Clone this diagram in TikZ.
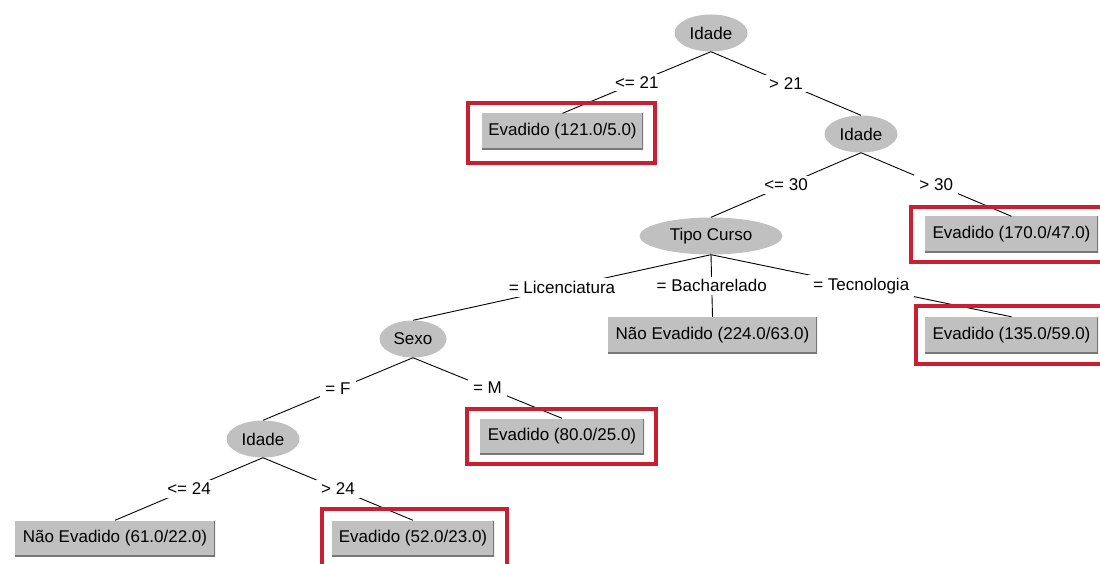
\documentclass[tikz,border=0pt]{standalone}
\usepackage{fontspec}
\setmainfont{Liberation Sans}
\usetikzlibrary{shapes.geometric}
\definecolor{nodegray}{RGB}{192,192,192}
\definecolor{edgegray}{RGB}{120,120,120}
\definecolor{hlred}{RGB}{200,32,48}
\tikzset{
  every node/.style={font=\fontsize{17}{20}\selectfont},
  inner/.style={ellipse, fill=nodegray, inner sep=0pt, minimum height=37pt},
  leaf/.style={rectangle, fill=nodegray, inner sep=0pt, minimum height=36pt,
    path picture={\draw[edgegray, line width=2.2pt]
      (path picture bounding box.south west) -- (path picture bounding box.south east)
      -- (path picture bounding box.north east);}},
  lbl/.style={fill=white, inner xsep=5pt, inner ysep=3pt},
  conn/.style={draw=black, line width=0.9pt},
  hl/.style={draw=hlred, line width=3.5pt},
}
\begin{document}
\begin{tikzpicture}[x=1pt, y=-1pt]
\useasboundingbox (0,0) rectangle (1100,564);
\clip (0,0) rectangle (1100,564);
% nodes
\node[inner, minimum width=73pt] (root) at (711,33) {Idade};
\node[leaf, minimum width=161pt] (l121) at (562.5,131.5) {Evadido (121.0/5.0)};
\node[inner, minimum width=73pt] (age2) at (861,134) {Idade};
\node[leaf, minimum width=173pt] (l170) at (1011.5,234.5) {Evadido (170.0/47.0)};
\node[inner, minimum width=143pt] (tipo) at (711,236) {Tipo Curso};
\node[leaf, minimum width=209pt] (l224) at (712.5,335) {Não Evadido (224.0/63.0)};
\node[leaf, minimum width=173pt] (l135) at (1011.5,335) {Evadido (135.0/59.0)};
\node[inner, minimum width=67pt] (sexo) at (413,339) {Sexo};
\node[leaf, minimum width=164pt] (l80) at (562,436.5) {Evadido (80.0/25.0)};
\node[inner, minimum width=73pt] (age3) at (263,439) {Idade};
\node[leaf, minimum width=200pt] (l61) at (115,538.5) {Não Evadido (61.0/22.0)};
\node[leaf, minimum width=162pt] (l52) at (413,538.5) {Evadido (52.0/23.0)};
% connectors
\draw[conn] (root.south) -- node[lbl] {<= 21} (l121.north);
\draw[conn] (root.south) -- node[lbl] {> 21} (age2.north);
\draw[conn] (age2.south) -- node[lbl] {<= 30} (tipo.north);
\draw[conn] (age2.south) -- node[lbl] {> 30} (l170.north);
\draw[conn] (tipo.south) -- node[lbl] {= Licenciatura} (sexo.north);
\draw[conn] (tipo.south) -- node[lbl] {= Bacharelado} (l224.north);
\draw[conn] (tipo.south) -- node[lbl] {= Tecnologia} (l135.north);
\draw[conn] (sexo.south) -- node[lbl] {= F} (age3.north);
\draw[conn] (sexo.south) -- node[lbl] {= M} (l80.north);
\draw[conn] (age3.south) -- node[lbl] {<= 24} (l61.north);
\draw[conn] (age3.south) -- node[lbl] {> 24} (l52.north);
% highlight frames
\draw[hl] (468,103) rectangle (655,163);
\draw[hl] (911,207) rectangle (1110,262);
\draw[hl] (916,306) rectangle (1110,364);
\draw[hl] (467,409) rectangle (656,464);
\draw[hl] (322,509) rectangle (507,575);
\end{tikzpicture}
\end{document}
